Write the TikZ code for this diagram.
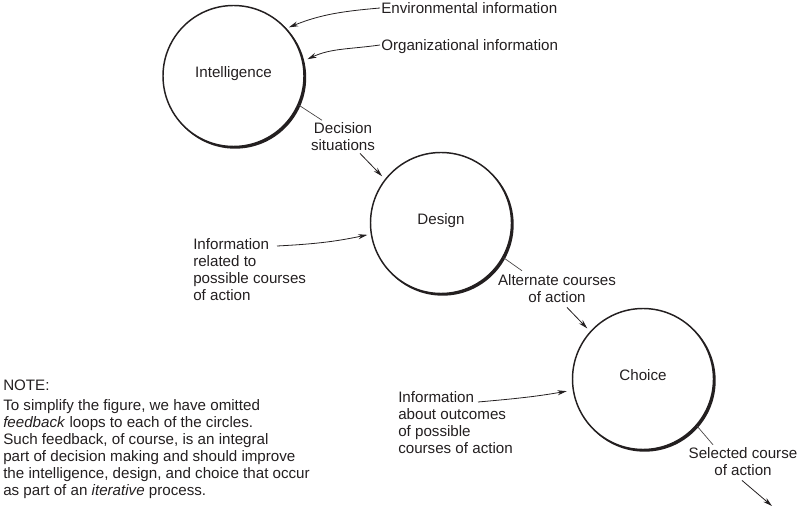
\documentclass[tikz,border=0pt]{standalone}
\usepackage{fontspec}
\setmainfont{Liberation Sans}
\usetikzlibrary{arrows.meta,calc}
\definecolor{ink}{HTML}{231F20}
\newcommand\lblfont{\fontsize{11.36pt}{12.75pt}\selectfont}
\tikzset{
  stage/.style={circle, draw=ink, line width=1.1pt, minimum size=105.75pt, inner sep=0pt, text=ink, font=\lblfont, text height=7pt, text depth=4pt},
  lbl/.style={inner sep=0pt, text=ink, font=\lblfont},
  flow/.style={draw=ink, line width=0.6pt, -{Stealth[length=7pt,width=3.8pt]}},
  tie/.style={draw=ink!85, line width=0.5pt},
}
\begin{document}
\begin{tikzpicture}[x=0.75pt,y=0.75pt]
\useasboundingbox (0,0) rectangle (800,507);
% stages
\node[stage] (int) at (233.5,431) {Intelligence};
\node[stage] (des) at (441,284) {Design};
\node[stage] (cho) at (643,128) {Choice};
\foreach \n in {int,des,cho}{
  \begin{scope}[even odd rule]
    \clip (0,0) rectangle (800,507) (\n.center) circle[radius=70.5];
    \fill[ink] ([shift={(1.6,-1.6)}]\n.center) circle[radius=71.1];
  \end{scope}
}
% labels (base anchor = baseline of the last line)
\node[lbl, anchor=base west] (env) at (381,493.5) {Environmental information};
\node[lbl, anchor=base west] (org) at (381,456.5) {Organizational information};
\node[lbl, anchor=base, align=center] (dec) at (343,356.5) {Decision\\situations};
\node[lbl, anchor=base west, align=left] (inforel) at (193,206.5) {Information\\related to\\possible courses\\of action};
\node[lbl, anchor=base, align=center] (alt) at (557,204.5) {Alternate courses\\of action};
\node[lbl, anchor=base west, align=left] (infout) at (398,53.5) {Information\\about outcomes\\of possible\\courses of action};
\node[lbl, anchor=base, align=center] (sel) at (743,31.5) {Selected course\\of action};
\node[lbl, anchor=base west, align=left] (note) at (3,11.5) {NOTE:\\[2.25pt]To simplify the figure, we have omitted\\\textit{feedback}\ loops to each of the circles.\\Such feedback, of course, is an integral\\part of decision making and should improve\\the intelligence, design, and choice that occur\\as part of an \textit{iterative} process.};
\coordinate (selout) at (772,1);
% connectors
\draw[flow, shorten >=2pt] ([shift={(-1,5.5)}]env.base west) to[out=185,in=22] (int.42);
\draw[flow, shorten >=3.5pt] ([shift={(-1,5.5)}]org.base west) to[out=188,in=25] (int.12);
\draw[tie] (int.-24) -- ([shift={(-21,2)}]dec.north);
\draw[flow, shorten >=3pt] ([shift={(17,-2.5)}]dec.south) -- (des.142);
\draw[flow, shorten >=2.5pt] ([shift={(84,54.5)}]inforel.base west) to[out=3,in=192] (des.189);
\draw[tie] (des.-29) -- ([shift={(-35,3.5)}]alt.north);
\draw[flow, shorten >=3pt] ([shift={(10,-4.5)}]alt.south) -- (cho.138);
\draw[flow, shorten >=4.5pt] ([shift={(80,51.5)}]infout.base west) to[out=5,in=190] (cho.189);
\draw[tie] (cho.-41) -- ([shift={(-30,2.5)}]sel.north);
\draw[flow] ([shift={(-1,-4.5)}]sel.south) -- (selout);
\end{tikzpicture}
\end{document}
